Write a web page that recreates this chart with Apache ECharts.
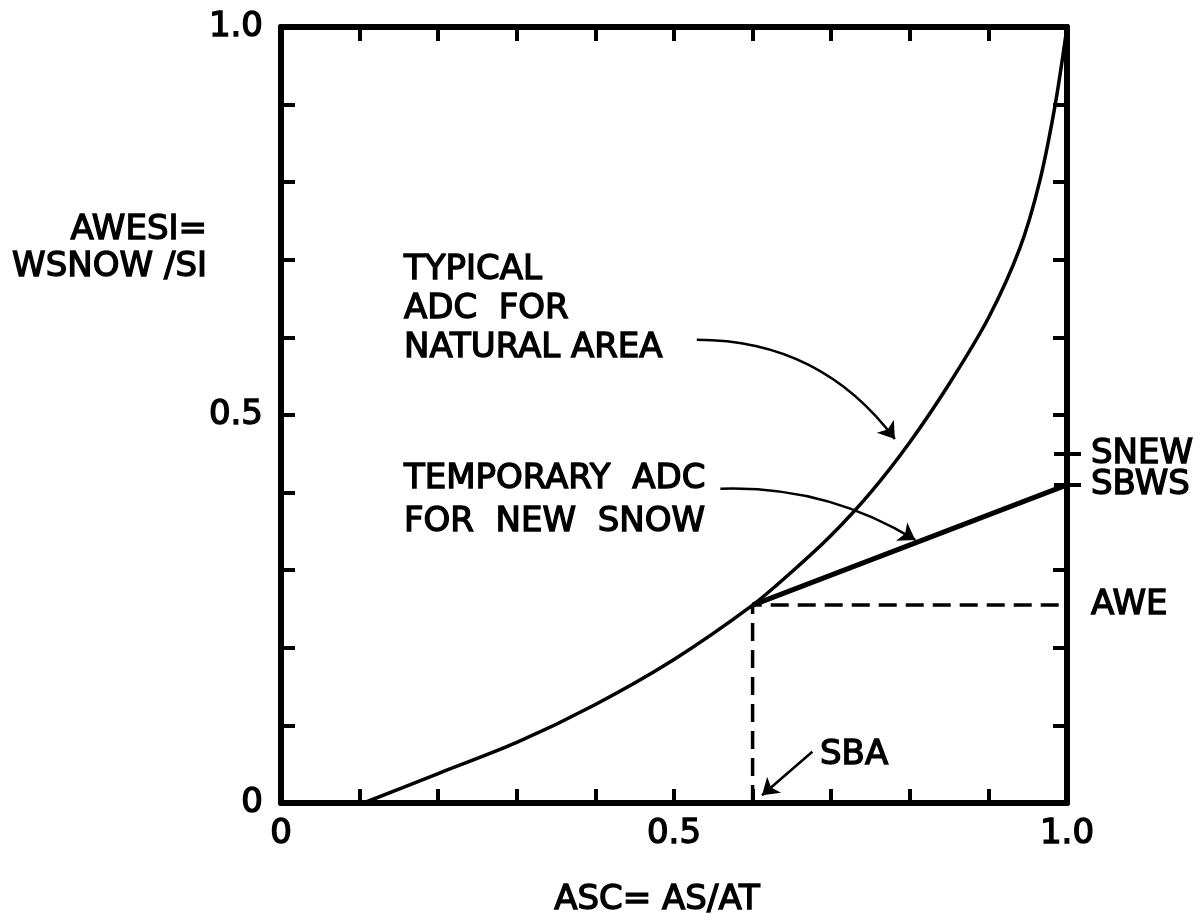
<!DOCTYPE html>
<html>
<head>
<meta charset="utf-8">
<script src="https://cdn.jsdelivr.net/npm/echarts@6/dist/echarts.min.js"></script>
<style>
  html, body { margin: 0; background: #fff; }
  #chart { width: 1202px; height: 924px; }
</style>
</head>
<body>
<div id="chart"></div>
<script>
// ADC curve (ASC -> AWESI)
const adcASC = [0.105, 0.2, 0.3, 0.4, 0.5, 0.6, 0.65, 0.7, 0.75, 0.8, 0.85, 0.9, 0.94, 0.965, 0.985, 1.0]
const adcAWESI = [0, 0.038, 0.078, 0.127, 0.185, 0.255, 0.298, 0.345, 0.40, 0.465, 0.54, 0.625, 0.715, 0.80, 0.90, 1.0]

// points of the temporary ADC
const SBA = 0.6
const AWE = 0.255
const SBWS = 0.41
const SNEW = 0.45

const axisLabelTicks = [0, 0.5, 1.0]
const rightTicks = [0.1, 0.2, 0.3, 0.5, 0.6, 0.7, 0.8, 0.9]

// annotation arrows, in data units: [from, to]
const arrowNatural = [[0.529, 0.597], [0.781, 0.469]]
const arrowTemporary = [[0.559, 0.405], [0.807, 0.339]]
const arrowSBA = [[0.676, 0.066], [0.612, 0.010]]

const font = '"DejaVu Sans", sans-serif'
const black = '#000'

const chart = echarts.init(document.getElementById('chart'))

const fmt = v => v === 0 ? '0' : v.toFixed(1)
const baseAxis = {
    type: 'value', min: 0, max: 1, interval: 0.1,
    splitLine: { show: false },
    axisLine: { onZero: false, lineStyle: { color: black, width: 6 } },
    axisTick: { inside: true, length: 14, lineStyle: { color: black, width: 4 } },
    axisLabel: { show: false }
}
const labelStyle = {
    color: black, fontFamily: font, fontSize: 34,
    textBorderColor: black, textBorderWidth: 1.4, hideOverlap: false
}
const textStyle = { font: '34px ' + font, fill: black, stroke: black, lineWidth: 1.4 }

// one right axis per named level: crossing tick + label
function rightMark(value, name, withTick) {
    const noLine = { show: false, onZero: false }
    const out = {
        ...baseAxis, position: 'right', axisLine: noLine,
        axisTick: { show: withTick, inside: false, length: 14, customValues: [value], lineStyle: { color: black, width: 4 } },
        axisLabel: { ...labelStyle, show: true, margin: 24, customValues: [value], formatter: () => name }
    }
    const inn = {
        ...baseAxis, position: 'right', axisLine: noLine,
        axisTick: { show: withTick, inside: true, length: 13, customValues: [value], lineStyle: { color: black, width: 4 } }
    }
    return [out, inn]
}

chart.setOption({
    animation: false,
    backgroundColor: '#fff',
    grid: { left: 281, top: 27, width: 786, height: 776 },
    xAxis: [
        {
            ...baseAxis, position: 'bottom',
            axisLabel: { ...labelStyle, show: true, margin: 14, customValues: axisLabelTicks, formatter: fmt }
        },
        { ...baseAxis, position: 'top' }
    ],
    yAxis: [
        {
            ...baseAxis, position: 'left',
            axisLabel: { ...labelStyle, show: true, margin: 18, customValues: axisLabelTicks, formatter: fmt }
        },
        {
            ...baseAxis, position: 'right',
            axisTick: { ...baseAxis.axisTick, customValues: rightTicks }
        },
        ...rightMark(SNEW, 'SNEW', true),
        ...rightMark(SBWS, 'SBWS', true),
        ...rightMark(AWE, 'AWE', false)
    ],
    graphic: [
        {
            type: 'text', x: 207, y: 212,
            style: { ...textStyle, text: 'AWESI=\nWSNOW /SI', align: 'right', verticalAlign: 'top', lineHeight: 37 }
        },
        {
            type: 'text', x: 657, y: 900,
            style: { ...textStyle, text: 'ASC= AS/AT', align: 'center', verticalAlign: 'middle' }
        },
        {
            type: 'text', x: 404, y: 251,
            style: { ...textStyle, text: 'TYPICAL\nADC  FOR\nNATURAL AREA', align: 'left', verticalAlign: 'top', lineHeight: 39 }
        },
        {
            type: 'text', x: 404, y: 458,
            style: { ...textStyle, text: 'TEMPORARY  ADC\nFOR  NEW  SNOW', align: 'left', verticalAlign: 'top', lineHeight: 43 }
        },
        {
            type: 'text', x: 820, y: 755,
            style: { ...textStyle, text: 'SBA', align: 'left', verticalAlign: 'middle' }
        }
    ],
    series: [
        {
            name: 'ADC natural area', type: 'line',
            data: adcASC.map((x, i) => [x, adcAWESI[i]]),
            smooth: 0.3, showSymbol: false,
            lineStyle: { color: black, width: 3.5 }
        },
        {
            name: 'temporary ADC', type: 'line',
            data: [[SBA, AWE], [1.0, SBWS]],
            showSymbol: false,
            lineStyle: { color: black, width: 5 }
        },
        {
            name: 'SBA / AWE', type: 'line',
            data: [[SBA, 0], [SBA, AWE], [1.0, AWE]],
            showSymbol: false,
            lineStyle: { color: black, width: 3.5, type: [18, 9] }
        },
        {
            type: 'lines', coordinateSystem: 'cartesian2d',
            symbol: ['none', 'arrow'], symbolSize: 16,
            lineStyle: { color: black, width: 2.5, opacity: 1 },
            data: [
                { coords: arrowNatural, lineStyle: { curveness: 0.25 } },
                { coords: arrowTemporary, lineStyle: { curveness: 0.15 } },
                { coords: arrowSBA, lineStyle: { curveness: 0 } }
            ]
        }
    ]
})
</script>
</body>
</html>
